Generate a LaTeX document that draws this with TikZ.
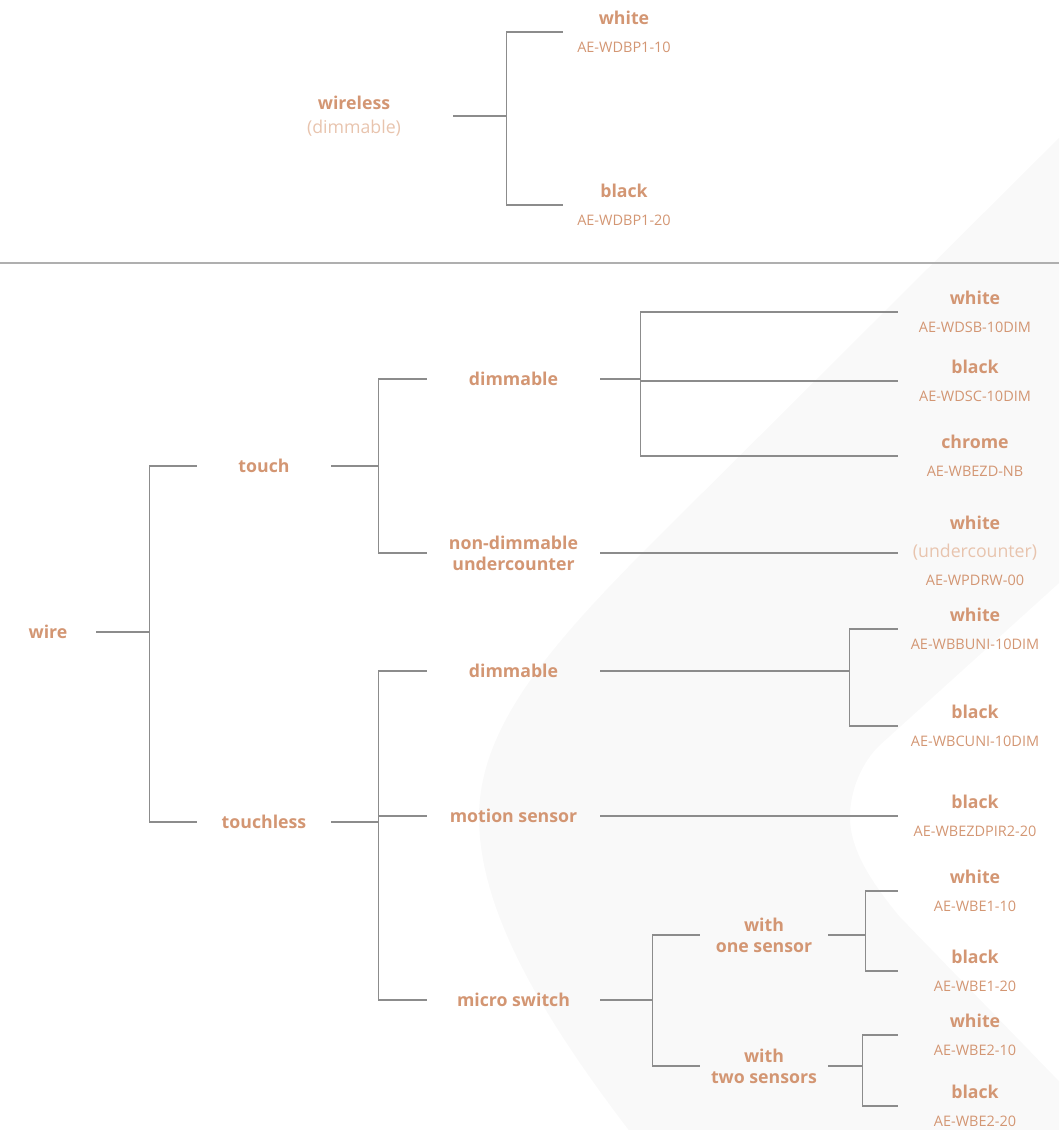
\documentclass[tikz,border=0pt]{standalone}
\usepackage{fontspec}
\setmainfont{Open Sans}
\usetikzlibrary{calc}
\definecolor{tan}{RGB}{211,150,115}
\definecolor{tanlight}{RGB}{232,196,174}
\definecolor{linegray}{RGB}{140,140,140}
\definecolor{rulegray}{RGB}{175,175,175}
\definecolor{swoosh}{RGB}{249,249,249}

\newcommand{\clr}[1]{{\fontsize{12.6}{20}\selectfont\bfseries #1}}

\tikzset{
    lbl/.style={text=tan, font=\fontsize{12.6}{15}\selectfont\bfseries, align=center, inner sep=0pt},
    col1/.style={lbl, minimum width=2.4cm},
    col2/.style={lbl, minimum width=3.35cm},
    col3/.style={lbl, minimum width=4.325cm},
    col4/.style={lbl, minimum width=3.2cm},
    leaf/.style={text=tan, font=\fontsize{10.3}{20}\selectfont, align=center, inner sep=0pt, minimum width=3.85cm},
    link/.style={draw=linegray, line width=0.75pt}
}

\begin{document}
\begin{tikzpicture}[x=0.025cm, y=-0.025cm]
    \useasboundingbox (0,0) rectangle (1059,1130);
    % background band
    \begin{scope}
        \clip (0,0) rectangle (1059,1130);
        \fill[swoosh] (1100,97) -- (650,545) .. controls (545,650) and (479,730) .. (479,817)
            .. controls (479,910) and (540,1020) .. (660,1170) -- (1145,1170) -- (900,917)
            .. controls (865,875) and (850,845) .. (850,817) .. controls (850,790) and (862,762) .. (880,745)
            -- (1100,546) -- cycle;
    \end{scope}
    \draw[draw=rulegray, line width=1.2pt] (0,263) -- (1059,263);

    % wireless
    \node[lbl, font=\fontsize{12.6}{17}\selectfont\bfseries, minimum width=4.95cm] (wireless) at (354,116)
        {wireless\\{\mdseries\color{tanlight}(dimmable)}};
    \node[leaf, minimum width=3.05cm] (tw) at (624,32) {\clr{white}\\AE-WDBP1-10};
    \node[leaf, minimum width=3.05cm] (tb) at (624,205) {\clr{black}\\AE-WDBP1-20};

    \draw[link] (wireless.east) -- ++(53,0) coordinate (wlf);
    \draw[link] (wlf) |- (tw.west);
    \draw[link] (wlf) |- (tb.west);

    % wire
    \node[col1] (wire) at (48,632) {wire};
    \node[col2] (touch) at (264,466) {touch};
    \node[col2] (touchless) at (264,822) {touchless};

    \node[col3] (dima) at (513.5,379) {dimmable};
    \node[col3] (nondim) at (513.5,553) {non-dimmable\\undercounter};
    \node[col3] (dimb) at (513.5,671) {dimmable};
    \node[col3] (motion) at (513.5,816) {motion sensor};
    \node[col3] (micro) at (513.5,1000) {micro switch};

    \node[col4] (one) at (764,935) {with\\one sensor};
    \node[col4] (two) at (764,1066) {with\\two sensors};

    \node[leaf] (l1) at (975,312) {\clr{white}\\AE-WDSB-10DIM};
    \node[leaf] (l2) at (975,381) {\clr{black}\\AE-WDSC-10DIM};
    \node[leaf] (l3) at (975,456) {\clr{chrome}\\AE-WBEZD-NB};
    \node[leaf] (l4) at (975,551) {\clr{white}\\{\fontsize{12.6}{20}\selectfont\color{tanlight}(undercounter)}\\AE-WPDRW-00};
    \node[leaf] (l5) at (975,629) {\clr{white}\\AE-WBBUNI-10DIM};
    \node[leaf] (l6) at (975,726) {\clr{black}\\AE-WBCUNI-10DIM};
    \node[leaf] (l7) at (975,816) {\clr{black}\\AE-WBEZDPIR2-20};
    \node[leaf] (l8) at (975,891) {\clr{white}\\AE-WBE1-10};
    \node[leaf] (l9) at (975,971) {\clr{black}\\AE-WBE1-20};
    \node[leaf] (l10) at (975,1035) {\clr{white}\\AE-WBE2-10};
    \node[leaf] (l11) at (975,1106) {\clr{black}\\AE-WBE2-20};

    \draw[link] (wire.east) -- ++(53,0) coordinate (wf);
    \draw[link] (wf) |- (touch.west);
    \draw[link] (wf) |- (touchless.west);

    \draw[link] (touch.east) -- ++(47,0) coordinate (tf);
    \draw[link] (tf) |- (dima.west);
    \draw[link] (tf) |- (nondim.west);

    \draw[link] (touchless.east) -- ++(47,0) coordinate (tlf);
    \draw[link] (tlf) |- (dimb.west);
    \draw[link] (tlf) |- (motion.west);
    \draw[link] (tlf) |- (micro.west);

    \draw[link] (dima.east) -- ++(40,0) coordinate (daf);
    \draw[link] (daf) |- (l1.west);
    \draw[link] (daf) |- (l2.west);
    \draw[link] (daf) |- (l3.west);

    \draw[link] (nondim.east) -- (nondim.east -| l4.west);

    \draw[link] (dimb.east) -- ++(249,0) coordinate (dbf);
    \draw[link] (dbf) |- (l5.west);
    \draw[link] (dbf) |- (l6.west);

    \draw[link] (motion.east) -- (l7.west);

    \draw[link] (micro.east) -- ++(52,0) coordinate (mf);
    \draw[link] (mf) |- (one.west);
    \draw[link] (mf) |- (two.west);

    \draw[link] (one.east) -- ++(37,0) coordinate (of);
    \draw[link] (of) |- (l8.west);
    \draw[link] (of) |- (l9.west);

    \draw[link] (two.east) -- ++(34,0) coordinate (twf);
    \draw[link] (twf) |- (l10.west);
    \draw[link] (twf) |- (l11.west);
\end{tikzpicture}
\end{document}
